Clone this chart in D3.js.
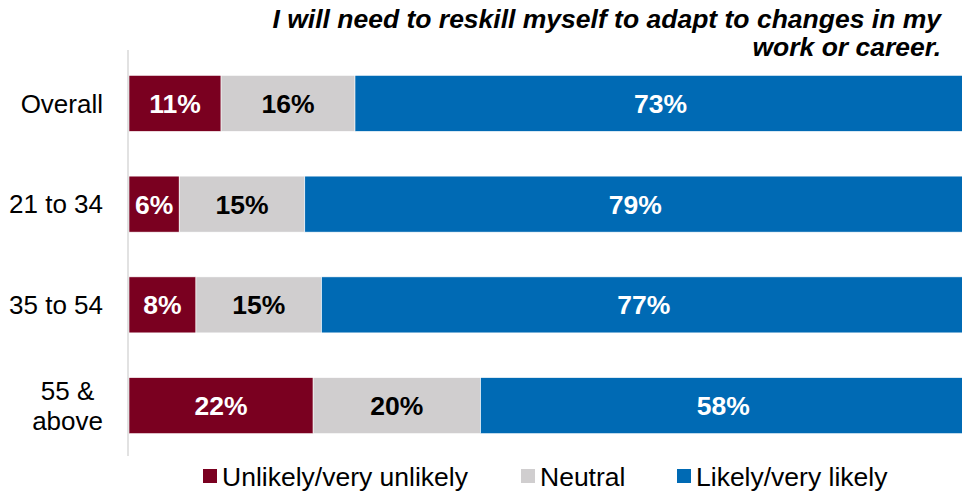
<!DOCTYPE html>
<html>
<head>
<meta charset="utf-8">
<script src="https://cdn.jsdelivr.net/npm/d3@7"></script>
<style>
  html, body { margin: 0; padding: 0; background: #fff; }
  svg { display: block; font-family: "Liberation Sans", Arial, sans-serif; }
</style>
</head>
<body>
<svg id="chart" width="962" height="492"></svg>
<script>
// Survey groups and response shares (%)
const categories = ["Overall", "21 to 34", "35 to 54", "55 & above"];
const unlikely = [11, 6, 8, 22];
const neutral = [16, 15, 15, 20];
const likely = [73, 79, 77, 58];
const seriesNames = ["Unlikely/very unlikely", "Neutral", "Likely/very likely"];
const titleLines = ["I will need to reskill myself to adapt to changes in my", "work or career."];

const colors = ["#7A0020", "#D0CECF", "#006AB4"];
const labelColors = ["#fff", "#000", "#fff"];

const svg = d3.select("#chart");
const margin = { left: 129, top: 53 };

// Plot area runs slightly past the right edge of the canvas
const x = d3.scaleLinear().domain([0, 100]).range([margin.left, 966]);
const y = d3.scaleBand().domain(categories).range([margin.top, 456]).paddingInner(0.444).paddingOuter(0.222);

const rows = categories.map((c, i) => ({ cat: c, vals: [unlikely[i], neutral[i], likely[i]] }));
const stack = d3.stack().keys([0, 1, 2]).value((d, k) => d.vals[k]);
const layers = stack(rows);

// Title
const title = svg.append("text")
  .attr("text-anchor", "end")
  .attr("font-size", 26.5)
  .attr("font-weight", "bold")
  .attr("font-style", "italic");
titleLines.forEach((t, i) => {
  title.append("tspan").attr("x", 941).attr("y", 28 + i * 28).text(t);
});

// Bars
layers.forEach((layer, k) => {
  const g = svg.append("g");
  g.selectAll("rect").data(layer).join("rect")
    .attr("x", d => x(d[0]))
    .attr("y", d => y(d.data.cat))
    .attr("width", d => x(d[1]) - x(d[0]))
    .attr("height", y.bandwidth())
    .attr("fill", colors[k])
    .attr("stroke", "#fff")
    .attr("stroke-width", 0.6);
  g.selectAll("text").data(layer).join("text")
    .attr("x", d => (x(d[0]) + x(d[1])) / 2)
    .attr("y", d => y(d.data.cat) + y.bandwidth() / 2)
    .attr("dy", "0.36em")
    .attr("text-anchor", "middle")
    .attr("font-size", 26.5)
    .attr("font-weight", "bold")
    .attr("fill", labelColors[k])
    .text(d => d.data.vals[k] + "%");
});

// Category axis line
svg.append("line")
  .attr("x1", margin.left - 1).attr("x2", margin.left - 1)
  .attr("y1", margin.top - 3).attr("y2", 456)
  .attr("stroke", "#d9d9d9").attr("stroke-width", 1.5);

// Category labels (wrapped labels are centred under their right edge)
const wrapMap = { "55 & above": ["55 &", "above"] };
categories.forEach(c => {
  const lines = wrapMap[c] || [c];
  const cy = y(c) + y.bandwidth() / 2;
  const t = svg.append("text").attr("font-size", 26).attr("fill", "#000");
  const lh = 30;
  lines.forEach((ln, i) => {
    t.append("tspan").attr("y", cy + (i - (lines.length - 1) / 2) * lh).attr("dy", "0.36em").text(ln);
  });
  if (lines.length === 1) {
    t.attr("text-anchor", "end").selectAll("tspan").attr("x", 103);
  } else {
    const maxW = d3.max(t.selectAll("tspan").nodes(), n => n.getComputedTextLength());
    t.attr("text-anchor", "middle").selectAll("tspan").attr("x", 103 - maxW / 2);
  }
});

// Legend
const legendX = [203, 521, 677];
const leg = svg.append("g");
seriesNames.forEach((n, k) => {
  leg.append("rect").attr("x", legendX[k]).attr("y", 469).attr("width", 14).attr("height", 14).attr("fill", colors[k]);
  leg.append("text").attr("x", legendX[k] + 19).attr("y", 476).attr("dy", "0.36em")
    .attr("font-size", 26.5).attr("fill", "#000").text(n);
});
</script>
</body>
</html>
